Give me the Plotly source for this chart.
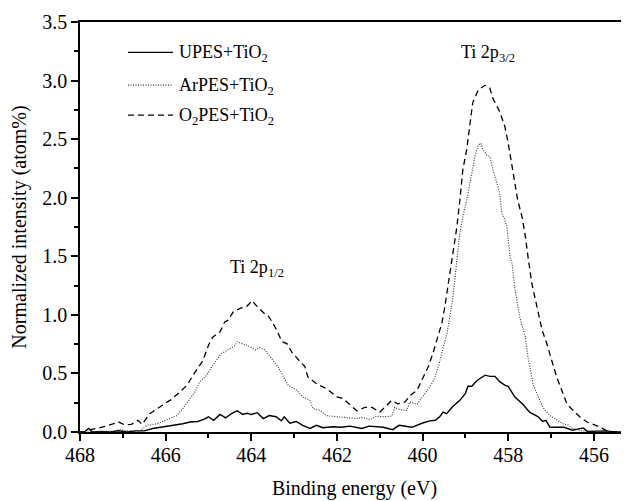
import plotly.graph_objects as go

# ---- data ----
upes_energy = [468.0, 467.9, 467.8, 467.7, 467.5, 467.3, 467.1, 466.9, 466.7, 466.5, 466.3, 466.1, 466.0,
               465.8, 465.6, 465.43, 465.25, 465.1, 465.0, 464.88, 464.73, 464.6, 464.45, 464.33, 464.2,
               464.1, 464.0, 463.86, 463.72, 463.58, 463.42, 463.3, 463.23, 463.1, 462.95, 462.8, 462.63,
               462.48, 462.33, 462.1, 461.9, 461.7, 461.42, 461.25, 460.92, 460.7, 460.55, 460.25, 460.0,
               459.83, 459.7, 459.6, 459.52, 459.44, 459.36, 459.29, 459.13, 459.0, 458.94, 458.85, 458.73,
               458.6, 458.54, 458.43, 458.31, 458.2, 458.08, 458.0, 457.85, 457.66, 457.5, 457.3, 457.2,
               457.12, 457.03, 456.85, 456.7, 456.5, 456.25, 456.15, 455.9, 455.7, 455.55, 455.2]
upes_values = [0.0, 0.0, 0.03, 0.0, 0.005, 0.0, 0.01, 0.0, 0.01, 0.01, 0.03, 0.04, 0.05,
               0.055, 0.07, 0.085, 0.09, 0.11, 0.13, 0.10, 0.15, 0.12, 0.16, 0.18, 0.15,
               0.16, 0.15, 0.165, 0.115, 0.14, 0.13, 0.095, 0.13, 0.075, 0.09, 0.057, 0.03,
               0.057, 0.037, 0.045, 0.04, 0.05, 0.03, 0.05, 0.04, 0.02, 0.057, 0.04, 0.077,
               0.095, 0.10, 0.13, 0.17, 0.157, 0.19, 0.22, 0.27, 0.33, 0.39, 0.39, 0.44,
               0.47, 0.485, 0.475, 0.475, 0.43, 0.40, 0.39, 0.30, 0.237, 0.17, 0.13, 0.09,
               0.10, 0.043, 0.04, 0.04, 0.015, 0.035, 0.005, 0.005, 0.01, 0.0, 0.0]

ar_energy = [468.0, 467.5, 467.2, 467.1, 466.9, 466.6, 466.44, 466.2, 466.0, 465.74, 465.6, 465.43,
             465.32, 465.2, 465.04, 464.9, 464.7, 464.55, 464.4, 464.33, 464.1, 463.9, 463.8, 463.68,
             463.5, 463.37, 463.25, 463.14, 462.94, 462.8, 462.63, 462.56, 462.4, 462.25, 462.0, 461.76,
             461.53, 461.4, 461.23, 461.08, 460.92, 460.72, 460.65, 460.53, 460.37, 460.3, 460.13, 460.0,
             459.83, 459.72, 459.6, 459.5, 459.43, 459.3, 459.2, 459.13, 459.06, 458.97, 458.85, 458.78,
             458.7, 458.64, 458.59, 458.5, 458.43, 458.36, 458.26, 458.2, 458.15, 458.08, 458.03, 457.96,
             457.91, 457.84, 457.73, 457.6, 457.54, 457.42, 457.3, 457.19, 457.03, 456.86, 456.72, 456.6,
             456.5, 456.34, 456.1, 455.2]
ar_values = [0.0, 0.0, 0.005, 0.02, 0.01, 0.01, 0.057, 0.07, 0.10, 0.14, 0.20, 0.29,
             0.34, 0.43, 0.485, 0.57, 0.67, 0.70, 0.73, 0.77, 0.74, 0.70, 0.72, 0.70,
             0.61, 0.555, 0.47, 0.40, 0.356, 0.30, 0.27, 0.20, 0.185, 0.14, 0.13, 0.125,
             0.115, 0.125, 0.105, 0.135, 0.13, 0.135, 0.21, 0.19, 0.185, 0.256, 0.236, 0.30,
             0.385, 0.456, 0.60, 0.75, 0.84, 1.13, 1.45, 1.70, 1.84, 1.98, 2.21, 2.35,
             2.45, 2.465, 2.41, 2.365, 2.35, 2.24, 2.12, 2.04, 1.87, 1.81, 1.75, 1.50,
             1.44, 1.21, 0.98, 0.81, 0.64, 0.41, 0.30, 0.21, 0.14, 0.10, 0.07, 0.06,
             0.03, 0.015, 0.0, 0.0]

o2_energy = [468.0, 467.88, 467.75, 467.6, 467.53, 467.4, 467.1, 466.95, 466.8, 466.65, 466.55, 466.37,
             466.2, 466.06, 465.9, 465.7, 465.5, 465.36, 465.27, 465.13, 465.0, 464.9, 464.73, 464.62,
             464.54, 464.42, 464.26, 464.1, 463.98, 463.86, 463.68, 463.6, 463.45, 463.28, 463.17, 463.05,
             462.86, 462.75, 462.68, 462.47, 462.24, 462.0, 461.86, 461.7, 461.53, 461.35, 461.18, 461.0,
             460.88, 460.72, 460.58, 460.41, 460.3, 460.13, 460.0, 459.87, 459.76, 459.64, 459.55, 459.48,
             459.42, 459.36, 459.29, 459.2, 459.13, 459.06, 458.97, 458.9, 458.83, 458.7, 458.54, 458.43,
             458.36, 458.2, 458.08, 458.0, 457.92, 457.84, 457.78, 457.68, 457.6, 457.54, 457.45, 457.33,
             457.21, 457.1, 456.98, 456.87, 456.75, 456.63, 456.49, 456.33, 456.16, 456.0, 455.86, 455.7,
             455.5, 455.2]
o2_values = [0.0, 0.0, 0.02, 0.03, 0.037, 0.05, 0.085, 0.06, 0.065, 0.10, 0.065, 0.157,
             0.20, 0.23, 0.27, 0.33, 0.40, 0.485, 0.53, 0.61, 0.74, 0.81, 0.855, 0.94,
             0.955, 1.026, 1.055, 1.075, 1.12, 1.07, 1.006, 0.99, 0.90, 0.77, 0.755, 0.68,
             0.60, 0.56, 0.47, 0.41, 0.37, 0.30, 0.285, 0.23, 0.18, 0.21, 0.21, 0.17,
             0.21, 0.27, 0.24, 0.256, 0.31, 0.356, 0.456, 0.555, 0.67, 0.81, 0.93, 1.07,
             1.21, 1.35, 1.55, 1.75, 1.98, 2.24, 2.41, 2.61, 2.81, 2.92, 2.96, 2.935,
             2.85, 2.735, 2.61, 2.465, 2.29, 2.12, 1.98, 1.84, 1.67, 1.50, 1.27, 1.07,
             0.87, 0.755, 0.61, 0.47, 0.356, 0.24, 0.185, 0.13, 0.085, 0.066, 0.043, 0.01,
             0.0, 0.0]

series_names = ["UPES+TiO<sub>2</sub>", "ArPES+TiO<sub>2</sub>", "O<sub>2</sub>PES+TiO<sub>2</sub>"]
x_ticks = [468, 466, 464, 462, 460, 458, 456]
y_ticks = [0.0, 0.5, 1.0, 1.5, 2.0, 2.5, 3.0, 3.5]
peak_labels = ["Ti 2p<sub>1/2</sub>", "Ti 2p<sub>3/2</sub>"]
peak_label_x = [463.87, 458.47]
peak_label_y = [1.40, 3.23]

FONT = "Liberation Serif, Times New Roman, serif"
line_styles = [
    dict(color="black", width=1.4),
    dict(color="#333333", width=1.1, dash="1px,1.5px"),
    dict(color="black", width=1.3, dash="6px,4px"),
]

fig = go.Figure()
for xs, ys, name, ls in zip([upes_energy, ar_energy, o2_energy],
                            [upes_values, ar_values, o2_values],
                            series_names, line_styles):
    fig.add_trace(go.Scatter(x=xs, y=ys, mode="lines", name=name, line=ls, showlegend=False))

for t, xx, yy in zip(peak_labels, peak_label_x, peak_label_y):
    fig.add_annotation(x=xx, y=yy, text=t, showarrow=False,
                       font=dict(family=FONT, size=18, color="black"))

# hand-drawn legend (longer line samples, as in the original)
legend_line_y = [0.926, 0.846, 0.773]
for name, ls, ly in zip(series_names, line_styles, legend_line_y):
    fig.add_shape(type="line", xref="paper", yref="paper", x0=0.0874, x1=0.1694, y0=ly, y1=ly,
                  line=ls)
    fig.add_annotation(xref="paper", yref="paper", x=0.176, y=ly - 0.004, xanchor="left",
                       yanchor="middle", text=name, showarrow=False,
                       font=dict(family=FONT, size=18, color="black"))

fig.update_layout(
    width=621, height=493,
    margin=dict(l=72, r=0, t=14, b=69),
    paper_bgcolor="white", plot_bgcolor="white",
    font=dict(family=FONT, size=20, color="black"),
    showlegend=False,
)
fig.update_xaxes(
    range=[468, 455.18], tickvals=x_ticks, ticktext=[str(v) for v in x_ticks],
    showline=True, linecolor="black", linewidth=1.5, mirror=True,
    ticks="outside", ticklen=7, tickwidth=1.5, tickcolor="black", ticklabelstandoff=-3,
    minor=dict(ticks="outside", ticklen=4, tickwidth=1.5, tickcolor="black", dtick=1, tick0=467, showgrid=False),
    showgrid=False, zeroline=False,
    title=dict(text="Binding energy (eV)", font=dict(size=20), standoff=16),
)
fig.update_yaxes(
    range=[0, 3.5], tickvals=y_ticks, ticktext=[f"{v:.1f}" for v in y_ticks],
    showline=True, linecolor="black", linewidth=1.5,
    ticks="outside", ticklen=7, tickwidth=1.5, tickcolor="black",
    minor=dict(ticks="outside", ticklen=4, tickwidth=1.5, tickcolor="black", dtick=0.25, tick0=0, showgrid=False),
    showgrid=False, zeroline=False,
    title=dict(text="Normalized intensity (atom%)", font=dict(size=20), standoff=18),
)

fig.write_html("out.html")
